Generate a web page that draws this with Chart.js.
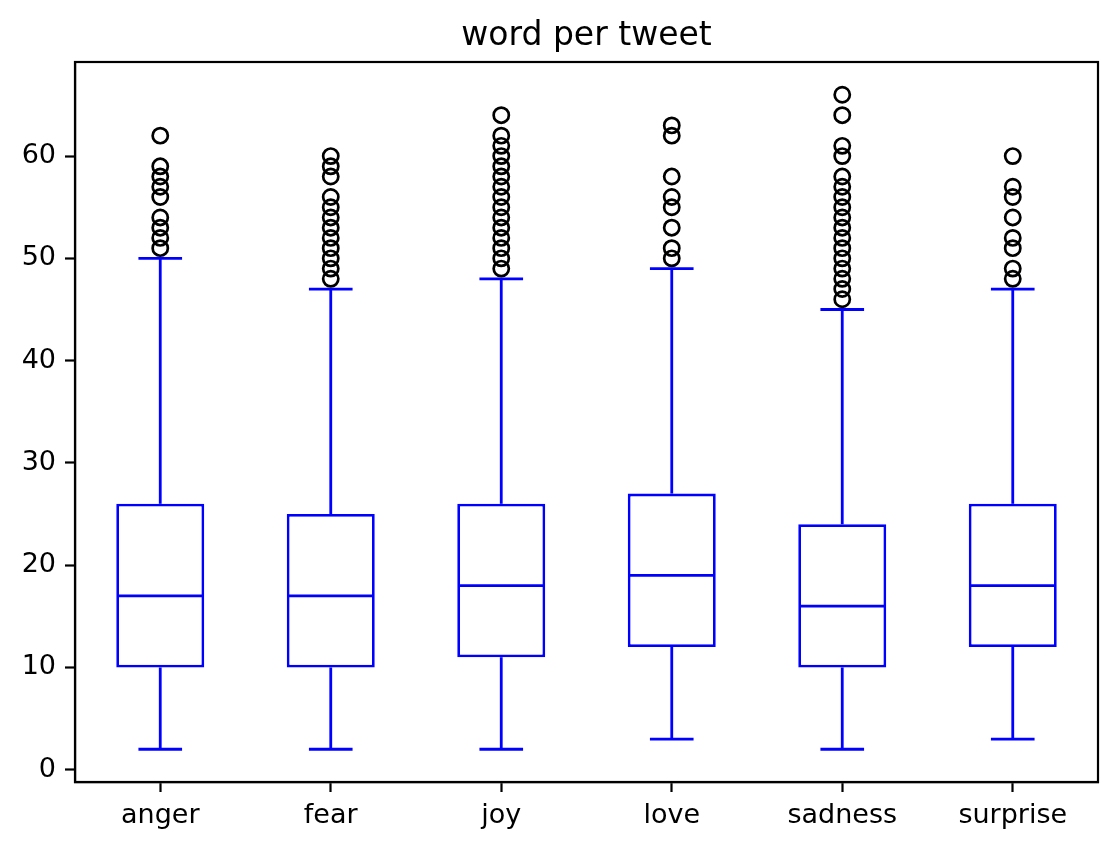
<!DOCTYPE html>
<html>
<head>
<meta charset="utf-8">
<script src="https://cdn.jsdelivr.net/npm/chart.js@4"></script>
<style>
  html, body { margin: 0; padding: 0; background: #fff; }
  canvas { display: block; }
</style>
</head>
<body>
<canvas id="boxChart" width="1119" height="849"></canvas>
<script>
// word counts per tweet, by emotion label
const emotions = ['anger', 'fear', 'joy', 'love', 'sadness', 'surprise'];
const whiskLow = [2, 2, 2, 3, 2, 3];
const q1 = [10, 10, 11, 12, 10, 12];
const median = [17, 17, 18, 19, 16, 18];
const q3 = [26, 25, 26, 27, 24, 26];
const whiskHigh = [50, 47, 48, 49, 45, 47];
const fliers = [
  [62, 59, 58, 57, 56, 54, 53, 52, 51],
  [60, 59, 58, 56, 55, 54, 53, 52, 51, 50, 49, 48],
  [64, 62, 61, 60, 59, 58, 57, 56, 55, 54, 53, 52, 51, 50, 49],
  [63, 62, 58, 56, 55, 53, 51, 50],
  [66, 64, 61, 60, 58, 57, 56, 55, 54, 53, 52, 51, 50, 49, 48, 47, 46],
  [60, 57, 56, 54, 52, 51, 49, 48]
];
const yTicks = [0, 10, 20, 30, 40, 50, 60];

const BLUE = '#0000ff';
const LW = 2.8;

const boxData = emotions.map((e, i) => [q1[i], q3[i]]);
const flierData = [];
fliers.forEach((vals, i) => vals.forEach(v => flierData.push({ x: emotions[i], y: v })));

// medians, whiskers and caps, drawn right after the boxes
const boxParts = {
  id: 'boxParts',
  afterDatasetDraw(chart, args) {
    if (args.index !== 0) return;
    const { ctx, scales: { x, y } } = chart;
    const step = x.getPixelForValue(1) - x.getPixelForValue(0);
    ctx.save();
    ctx.strokeStyle = BLUE;
    ctx.lineWidth = LW;
    ctx.lineCap = 'butt';
    const seg = (x0, y0, x1, y1) => {
      ctx.beginPath(); ctx.moveTo(x0, y0); ctx.lineTo(x1, y1); ctx.stroke();
    };
    emotions.forEach((e, i) => {
      const cx = x.getPixelForValue(i);
      const half = step * 0.25, cap = step * 0.128;
      seg(cx - half, y.getPixelForValue(median[i]), cx + half, y.getPixelForValue(median[i]));
      seg(cx, y.getPixelForValue(q3[i]), cx, y.getPixelForValue(whiskHigh[i]));
      seg(cx, y.getPixelForValue(q1[i]), cx, y.getPixelForValue(whiskLow[i]));
      seg(cx - cap, y.getPixelForValue(whiskHigh[i]), cx + cap, y.getPixelForValue(whiskHigh[i]));
      seg(cx - cap, y.getPixelForValue(whiskLow[i]), cx + cap, y.getPixelForValue(whiskLow[i]));
    });
    ctx.restore();
  }
};

// full frame round the plot area
const frame = {
  id: 'frame',
  afterDraw(chart) {
    const { ctx, chartArea: a } = chart;
    ctx.save();
    ctx.strokeStyle = '#000';
    ctx.lineWidth = 2.2;
    ctx.strokeRect(a.left, a.top, a.right - a.left, a.bottom - a.top);
    ctx.restore();
  }
};

const tickFont = { family: 'DejaVu Sans', size: 27 };

new Chart(document.getElementById('boxChart'), {
  type: 'bar',
  data: {
    labels: emotions,
    datasets: [
      {
        label: 'box',
        data: boxData,
        backgroundColor: '#ffffff',
        borderColor: BLUE,
        borderWidth: LW,
        borderSkipped: false,
        barPercentage: 0.516,
        categoryPercentage: 1.0,
        order: 2
      },
      {
        type: 'line',
        label: 'fliers',
        data: flierData,
        showLine: false,
        pointStyle: 'circle',
        pointRadius: 7.6,
        pointHoverRadius: 7.6,
        pointBorderWidth: 2.7,
        pointBorderColor: '#000',
        pointBackgroundColor: 'rgba(0,0,0,0)',
        order: 1
      }
    ]
  },
  options: {
    responsive: false,
    animation: false,
    events: [],
    layout: { padding: { left: 0, right: 21, top: 0, bottom: 0 } },
    plugins: {
      legend: { display: false },
      tooltip: { enabled: false },
      title: {
        display: true,
        fullSize: false,
        text: 'word per tweet',
        color: '#000',
        font: { family: 'DejaVu Sans', size: 33, weight: 'normal' },
        padding: { top: 17, bottom: 5.4 }
      }
    },
    scales: {
      x: {
        offset: true,
        grid: { display: true, offset: false, drawOnChartArea: false, drawTicks: true, tickLength: 10, tickColor: '#000', tickWidth: 2.2 },
        border: { display: true, color: '#000', width: 2.2 },
        ticks: { color: '#000', font: tickFont, padding: 8, maxRotation: 0 },
        afterFit(scale) { scale.height = 67; }
      },
      y: {
        min: -1.2,
        max: 69.2,
        grid: { display: true, drawOnChartArea: false, drawTicks: true, tickLength: 10, tickColor: '#000', tickWidth: 2.2 },
        border: { display: true, color: '#000', width: 2.2 },
        ticks: { color: '#000', font: tickFont, padding: 9 },
        afterBuildTicks(scale) { scale.ticks = yTicks.map(v => ({ value: v })); },
        afterFit(scale) { scale.width = 75; }
      }
    }
  },
  plugins: [boxParts, frame]
});
</script>
</body>
</html>
